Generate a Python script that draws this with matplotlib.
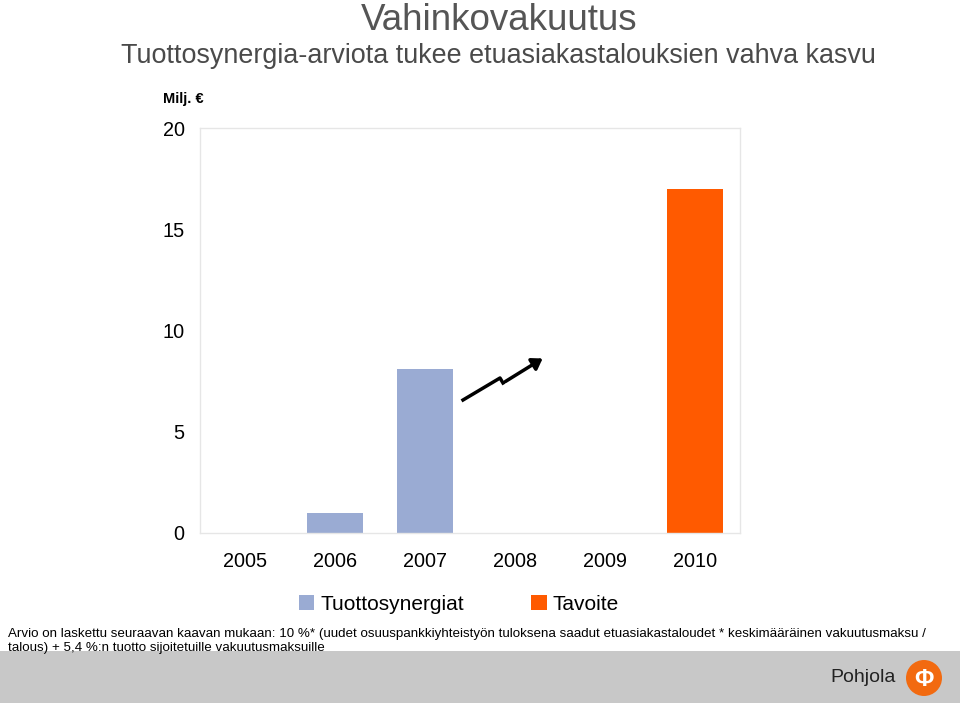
import numpy as np, matplotlib.pyplot as plt
from matplotlib import rcParams
from matplotlib.patches import Rectangle, Ellipse, FancyArrowPatch

rcParams['font.family'] = ['Liberation Sans', 'DejaVu Sans']

years = ['2005', '2006', '2007', '2008', '2009', '2010']
synergies = [0.0, 1.0, 8.1, 0.0, 0.0, 0.0]
target = [0.0, 0.0, 0.0, 0.0, 0.0, 17.0]
yticks = [0, 5, 10, 15, 20]

blue = '#9aabd3'
orange = '#ff5a00'

fig = plt.figure(figsize=(9.6, 7.06), dpi=100)
ax = fig.add_axes([200/960, 1-533/706, 540/960, 405/706])

x = np.arange(len(years))
ax.bar(x, synergies, width=0.62, color=blue, label='Tuottosynergiat')
ax.bar(x, target, width=0.62, color=orange, label='Tavoite')

ax.set_xlim(-0.5, len(years)-0.5)
ax.set_ylim(0, 20)
ax.set_xticks(x, labels=years)
ax.set_yticks(yticks)
ax.tick_params(length=0, labelsize=14.3, pad=14)
ax.tick_params(axis='y', pad=11)
for s in ax.spines.values():
    s.set_color('#e6e6e6')
    s.set_linewidth(1)

# titles
fig.text(499/960, 1-30/706, 'Vahinkovakuutus', ha='center', va='baseline', fontsize=26.5, color='#555555')
fig.text(498/960, 1-63/706, 'Tuottosynergia-arviota tukee etuasiakastalouksien vahva kasvu',
         ha='center', va='baseline', fontsize=19.4, color='#4a4a4a')
fig.text(163/960, 1-99/706, 'Milj. €', ha='left', va='center', fontsize=10.5, fontweight='bold')

# growth arrow
pts = [(463, 400), (500, 378), (503, 383), (545, 357)]
xs = [p[0]/960 for p in pts]
ys = [1-p[1]/706 for p in pts]
fig.add_artist(plt.Line2D(xs[:3], ys[:3], color='black', lw=2.5, transform=fig.transFigure))
fig.add_artist(FancyArrowPatch((xs[2], ys[2]), (xs[3], ys[3]), transform=fig.transFigure,
                               arrowstyle='-|>,head_length=6,head_width=4', color='black', lw=2.5))

# legend
fig.legend(loc='center', bbox_to_anchor=(459/960, 1-604/706), ncol=2, frameon=False,
           fontsize=15, handlelength=0.75, handleheight=0.75, columnspacing=3.2, handletextpad=0.3)

# footnote
fig.text(8/960, 1-634/706, 'Arvio on laskettu seuraavan kaavan mukaan: 10 %* (uudet osuuspankkiyhteistyön tuloksena saadut etuasiakastaloudet * keskimääräinen vakuutusmaksu /',
         ha='left', va='center', fontsize=9.6)
fig.text(8/960, 1-648/706, 'talous) + 5,4 %:n tuotto sijoitetuille vakuutusmaksuille',
         ha='left', va='center', fontsize=9.6)

# footer band with logo
fig.add_artist(Rectangle((0, 1-703/706), 1, 52/706, transform=fig.transFigure,
                         facecolor='#c8c8c8', edgecolor='none', zorder=0))
fig.text(863/960, 1-678/706, 'Pohjola', ha='center', va='center', fontsize=14, color='#222222')
fig.add_artist(Ellipse((924/960, 1-678/706), 36/960, 36/706, transform=fig.transFigure,
                       facecolor='#f26a10', edgecolor='none'))
fig.text(924/960, 1-679/706, 'Φ', ha='center', va='center', fontsize=17, fontweight='bold', color='white')

plt.savefig('out.png', dpi=100)
